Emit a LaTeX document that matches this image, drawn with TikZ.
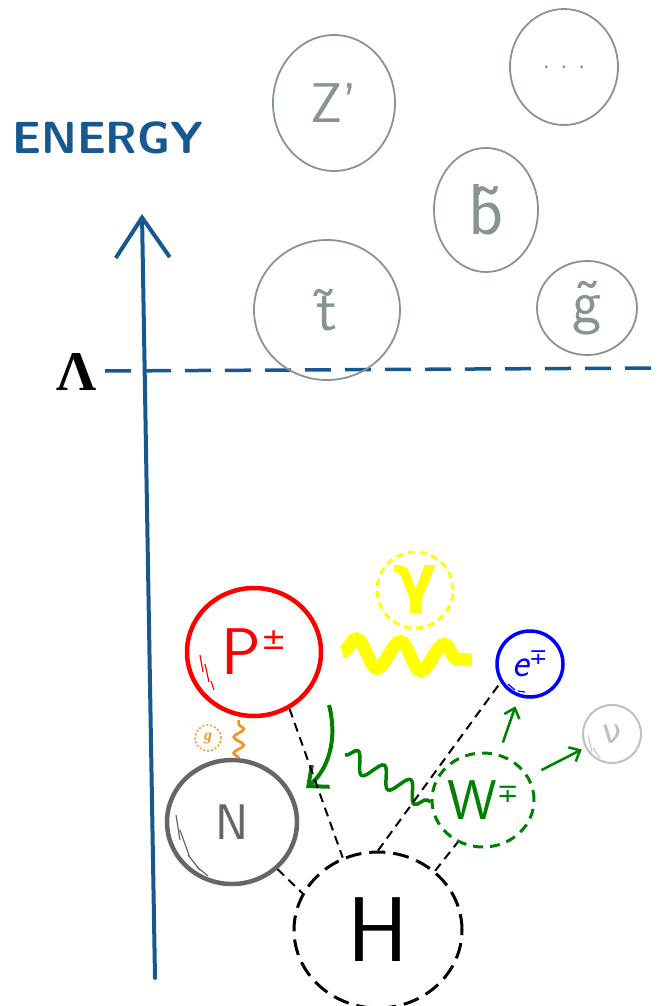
\documentclass[tikz,border=0pt]{standalone}
\usepackage{fontspec}
\newfontfamily\symf{DejaVu Sans}
\newfontfamily\serf{Liberation Serif}
\usetikzlibrary{shapes.geometric,decorations.pathmorphing,arrows.meta}
\definecolor{axisblue}{RGB}{24,88,144}
\definecolor{heavygray}{RGB}{136,148,148}
\definecolor{ngray}{RGB}{102,102,102}
\definecolor{nugray}{RGB}{192,192,192}
\definecolor{pgreen}{RGB}{0,128,0}
\definecolor{gorange}{RGB}{240,150,40}
\definecolor{pyellow}{RGB}{255,255,0}
\begin{document}
\begin{tikzpicture}[x=1pt,y=-1pt,
  heavy/.style={draw=heavygray, line width=1.8pt, ellipse, inner sep=0pt, text=heavygray},
  dashlink/.style={black, line width=2pt, dash pattern=on 9pt off 6pt},
  garrow/.style={pgreen, line width=2.5pt, -{Straight Barb[length=9pt,width=16pt]}},
  fsz/.style={font=\fontsize{#1}{#1}\selectfont\sffamily}
]
\useasboundingbox (0,0) rectangle (659,1006);

% energy axis
\coordinate (axbot) at (155,978);
\coordinate (axtop) at (142,214);
\draw[axisblue, line width=4pt, line cap=round, -{Straight Barb[length=40pt,width=54pt]}] (axbot) -- (axtop);
\node[text=axisblue, font=\fontsize{45}{45}\selectfont\sffamily\bfseries] (energy) at (108,138) {ENERGY};

% cutoff
\node[font=\fontsize{56}{56}\selectfont\serf\bfseries] (lam) at (77,372) {Λ};
\coordinate (lamL) at (105,371);
\coordinate (lamR) at (659,368);
\draw[axisblue, line width=3.5pt, dash pattern=on 26pt off 14pt] (lamL) -- (lamR);

% heavy states
\node[heavy, minimum width=122pt, minimum height=136pt, fsz=56] (zp) at (334,103) {Z'};
\node[heavy, minimum width=108pt, minimum height=116pt, fsz=30] (dots) at (564,67) {.\,\,.\,\,.};
\node[heavy, minimum width=104pt, minimum height=124pt, fsz=72] (sb) at (486,210) {\~{b}};
\node[heavy, minimum width=146pt, minimum height=140pt, fsz=62] (st) at (327,310) {\~{t}};
\node[heavy, minimum width=100pt, minimum height=94pt, fsz=62] (sg) at (587,308) {\~{g}};

% light states
\node[draw=red, line width=4.5pt, ellipse, inner sep=0pt, minimum width=134pt, minimum height=128pt, text=red, fsz=66] (P) at (254,652)
  {P\raisebox{0.38em}{\fontsize{30}{30}\selectfont\symf ±}};
\node[draw=ngray, line width=4.5pt, ellipse, inner sep=0pt, minimum width=130pt, minimum height=124pt, text=ngray, fsz=50] (N) at (232,822) {N};
\node[draw=black, line width=3pt, dash pattern=on 16pt off 8pt, ellipse, inner sep=0pt, minimum width=168pt, minimum height=156pt, fsz=92] (H) at (378,930) {H};
\node[draw=pgreen, line width=3pt, dash pattern=on 10pt off 7pt, ellipse, inner sep=0pt, minimum width=102pt, minimum height=94pt, text=pgreen, fsz=56] (W) at (483,800)
  {W\raisebox{0.3em}{\fontsize{26}{26}\selectfont\symf ∓}};
\node[draw=blue, line width=3.5pt, circle, inner sep=0pt, minimum size=66pt, text=blue, fsz=40] (e) at (530,664)
  {\itshape e\raisebox{0.3em}{\fontsize{22}{22}\selectfont\symf\upshape ∓}};
\node[draw=nugray, line width=2pt, circle, inner sep=0pt, minimum size=58pt, text=nugray, font=\fontsize{34}{34}\selectfont\symf] (nu) at (612,734) {ν};
\node[draw=pyellow, line width=3pt, dash pattern=on 7pt off 5pt, circle, inner sep=0pt, minimum size=76pt, text=pyellow, font=\fontsize{64}{64}\selectfont\symf\bfseries] (gam) at (415,590) {γ};
\node[draw=gorange, line width=1.5pt, dash pattern=on 2pt off 2pt, circle, inner sep=0pt, minimum size=26pt, text=gorange, font=\fontsize{16}{16}\selectfont\serf\bfseries\itshape] (glu) at (208,738) {g};

% hatch strokes
\draw[red, line width=1.2pt] (200,655) -- (203,672) (205,664) -- (209,682) (211,681) -- (214,690);
\draw[ngray, line width=1.2pt] (176,815) -- (180,840) (180,830) -- (190,858) (188,855) -- (200,870) (196,866) -- (208,876);
\draw[blue, line width=1.2pt] (508,684) -- (515,690) (518,691) -- (525,692);
\draw[nugray, line width=1pt] (588,735) -- (592,752) (593,748) -- (600,758);

% photon
\coordinate (ya) at (342,652);
\coordinate (yb) at (472,660);
\draw[pyellow, line width=13pt, decorate, decoration={snake, segment length=44pt, amplitude=14pt}] (ya) -- (yb);

% gluon on N
\draw[gorange, line width=2.8pt, decorate, decoration={snake, segment length=16pt, amplitude=5pt}] (N.84) -- ++(0,-38);

% green wavy line to W
\coordinate (wa) at (345,755);
\draw[pgreen, line width=3.5pt, decorate, decoration={snake, segment length=30pt, amplitude=10pt}] (wa) -- (W.182);

% green curved arrow from P to N
\coordinate (ga) at (329,705);
\coordinate (gb) at (306,788);
\draw[pgreen, line width=4pt, -{Straight Barb[length=16pt,width=28pt]}] (ga) .. controls (338,740) and (328,770) .. (gb);

% green decay arrows
\draw[garrow, shorten <=12pt, shorten >=10pt] (W) -- (e);
\draw[garrow, shorten <=14pt, shorten >=4pt] (W) -- (nu);

% dashed scalar links
\draw[dashlink] (P.-58) -- (H.116);
\draw[dashlink] (N.-46) -- (H.154);
\draw[dashlink] (H.90) -- (e.212);
\draw[dashlink] (H.46) -- (W.-121);
\end{tikzpicture}
\end{document}
